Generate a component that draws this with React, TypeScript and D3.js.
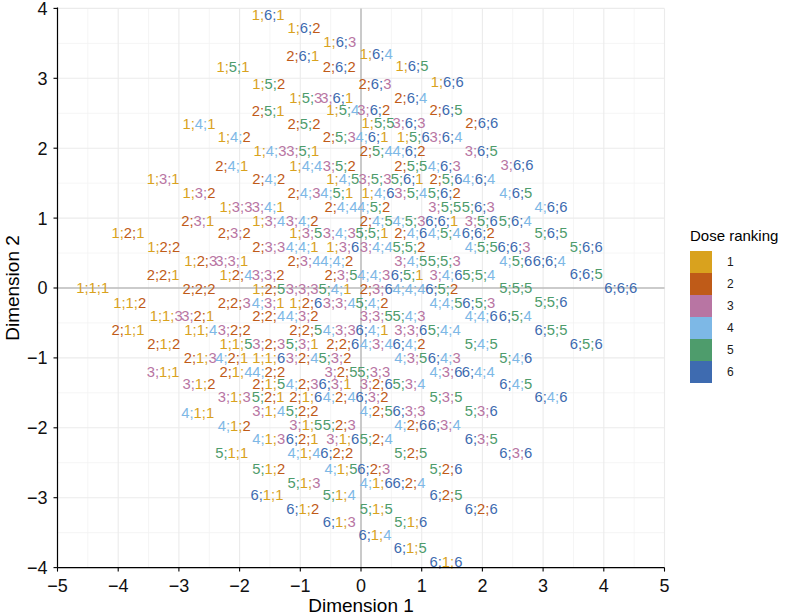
import * as d3 from "d3";

// Dose ranking colours, one per level (1..6)
const doseLevels = ["1", "2", "3", "4", "5", "6"];
const doseColors = ["#D9A21E", "#BF5B18", "#B875A3", "#7DB8E6", "#4E9C6C", "#3E6BB0"];

// one label per dose combination, coloured digit by digit
const doseLabels = [
  "1;1;1", "1;1;2", "1;1;3", "1;1;4", "1;1;5", "1;1;6",
  "1;2;1", "1;2;2", "1;2;3", "1;2;4", "1;2;5", "1;2;6",
  "1;3;1", "1;3;2", "1;3;3", "1;3;4", "1;3;5", "1;3;6",
  "1;4;1", "1;4;2", "1;4;3", "1;4;4", "1;4;5", "1;4;6",
  "1;5;1", "1;5;2", "1;5;3", "1;5;4", "1;5;5", "1;5;6",
  "1;6;1", "1;6;2", "1;6;3", "1;6;4", "1;6;5", "1;6;6",
  "2;1;1", "2;1;2", "2;1;3", "2;1;4", "2;1;5", "2;1;6",
  "2;2;1", "2;2;2", "2;2;3", "2;2;4", "2;2;5", "2;2;6",
  "2;3;1", "2;3;2", "2;3;3", "2;3;4", "2;3;5", "2;3;6",
  "2;4;1", "2;4;2", "2;4;3", "2;4;4", "2;4;5", "2;4;6",
  "2;5;1", "2;5;2", "2;5;3", "2;5;4", "2;5;5", "2;5;6",
  "2;6;1", "2;6;2", "2;6;3", "2;6;4", "2;6;5", "2;6;6",
  "3;1;1", "3;1;2", "3;1;3", "3;1;4", "3;1;5", "3;1;6",
  "3;2;1", "3;2;2", "3;2;3", "3;2;4", "3;2;5", "3;2;6",
  "3;3;1", "3;3;2", "3;3;3", "3;3;4", "3;3;5", "3;3;6",
  "3;4;1", "3;4;2", "3;4;3", "3;4;4", "3;4;5", "3;4;6",
  "3;5;1", "3;5;2", "3;5;3", "3;5;4", "3;5;5", "3;5;6",
  "3;6;1", "3;6;2", "3;6;3", "3;6;4", "3;6;5", "3;6;6",
  "4;1;1", "4;1;2", "4;1;3", "4;1;4", "4;1;5", "4;1;6",
  "4;2;1", "4;2;2", "4;2;3", "4;2;4", "4;2;5", "4;2;6",
  "4;3;1", "4;3;2", "4;3;3", "4;3;4", "4;3;5", "4;3;6",
  "4;4;1", "4;4;2", "4;4;3", "4;4;4", "4;4;5", "4;4;6",
  "4;5;1", "4;5;2", "4;5;3", "4;5;4", "4;5;5", "4;5;6",
  "4;6;1", "4;6;2", "4;6;3", "4;6;4", "4;6;5", "4;6;6",
  "5;1;1", "5;1;2", "5;1;3", "5;1;4", "5;1;5", "5;1;6",
  "5;2;1", "5;2;2", "5;2;3", "5;2;4", "5;2;5", "5;2;6",
  "5;3;1", "5;3;2", "5;3;3", "5;3;4", "5;3;5", "5;3;6",
  "5;4;1", "5;4;2", "5;4;3", "5;4;4", "5;4;5", "5;4;6",
  "5;5;1", "5;5;2", "5;5;3", "5;5;4", "5;5;5", "5;5;6",
  "5;6;1", "5;6;2", "5;6;3", "5;6;4", "5;6;5", "5;6;6",
  "6;1;1", "6;1;2", "6;1;3", "6;1;4", "6;1;5", "6;1;6",
  "6;2;1", "6;2;2", "6;2;3", "6;2;4", "6;2;5", "6;2;6",
  "6;3;1", "6;3;2", "6;3;3", "6;3;4", "6;3;5", "6;3;6",
  "6;4;1", "6;4;2", "6;4;3", "6;4;4", "6;4;5", "6;4;6",
  "6;5;1", "6;5;2", "6;5;3", "6;5;4", "6;5;5", "6;5;6",
  "6;6;1", "6;6;2", "6;6;3", "6;6;4", "6;6;5", "6;6;6",
];

const dim1 = [
  -4.42, -3.81, -3.21, -2.64, -2.06, -1.52,
  -3.84, -3.25, -2.64, -2.06, -1.52, -0.91,
  -3.26, -2.67, -2.06, -1.52, -0.91, -0.30,
  -2.67, -2.09, -1.50, -0.91, -0.30, 0.28,
  -2.11, -1.52, -0.91, -0.30, 0.28, 0.86,
  -1.53, -0.94, -0.35, 0.25, 0.84, 1.42,
  -3.84, -3.25, -2.65, -2.06, -1.52, -0.91,
  -3.26, -2.67, -2.09, -1.52, -0.91, -0.30,
  -2.69, -2.09, -1.52, -0.94, -0.33, 0.25,
  -2.13, -1.52, -0.94, -0.33, 0.25, 0.82,
  -1.53, -0.94, -0.36, 0.25, 0.82, 1.40,
  -0.96, -0.36, 0.23, 0.82, 1.40, 1.99,
  -3.26, -2.67, -2.09, -1.52, -0.91, -0.30,
  -2.69, -2.09, -1.52, -0.97, -0.33, 0.25,
  -2.13, -1.53, -0.97, -0.36, 0.25, 0.82,
  -1.53, -0.97, -0.36, 0.25, 0.82, 1.40,
  -0.96, -0.36, 0.23, 0.82, 1.38, 1.98,
  -0.40, 0.21, 0.79, 1.40, 1.98, 2.57,
  -2.69, -2.09, -1.52, -0.94, -0.33, 0.25,
  -2.13, -1.52, -0.97, -0.36, 0.25, 0.82,
  -1.53, -0.97, -0.36, 0.25, 0.82, 1.40,
  -0.97, -0.40, 0.21, 0.79, 1.40, 1.98,
  -0.40, 0.21, 0.79, 1.37, 1.98, 2.55,
  0.18, 0.79, 1.37, 1.94, 2.55, 3.13,
  -2.13, -1.52, -0.94, -0.36, 0.25, 0.82,
  -1.53, -0.97, -0.36, 0.25, 0.82, 1.40,
  -0.97, -0.43, 0.21, 0.79, 1.40, 1.98,
  -0.43, 0.18, 0.79, 1.37, 1.98, 2.55,
  0.18, 0.79, 1.37, 1.94, 2.55, 3.13,
  0.76, 1.37, 1.93, 2.54, 3.13, 3.71,
  -1.55, -0.96, -0.36, 0.23, 0.81, 1.40,
  -0.97, -0.40, 0.21, 0.79, 1.40, 1.98,
  -0.43, 0.18, 0.79, 1.37, 1.98, 2.55,
  0.18, 0.79, 1.37, 1.93, 2.55, 3.13,
  0.76, 1.33, 1.94, 2.54, 3.13, 3.71,
  1.33, 1.93, 2.52, 3.10, 3.71, 4.28,
];

const dim2 = [
  0.00, -0.21, -0.40, -0.60, -0.79, -0.99,
  0.79, 0.59, 0.39, 0.19, -0.01, -0.21,
  1.57, 1.36, 1.16, 0.97, 0.79, 0.59,
  2.35, 2.16, 1.96, 1.75, 1.57, 1.36,
  3.16, 2.93, 2.72, 2.55, 2.36, 2.16,
  3.91, 3.72, 3.52, 3.35, 3.18, 2.95,
  -0.60, -0.79, -0.99, -1.19, -1.37, -1.56,
  0.19, -0.01, -0.21, -0.40, -0.60, -0.79,
  0.97, 0.79, 0.59, 0.39, 0.19, -0.01,
  1.75, 1.57, 1.36, 1.17, 0.97, 0.79,
  2.53, 2.35, 2.16, 1.96, 1.75, 1.57,
  3.33, 3.16, 2.93, 2.72, 2.55, 2.36,
  -1.19, -1.37, -1.56, -1.76, -1.96, -2.16,
  -0.40, -0.60, -0.79, -0.99, -1.19, -1.37,
  0.39, 0.19, -0.01, -0.21, -0.40, -0.60,
  1.16, 0.97, 0.79, 0.59, 0.39, 0.19,
  1.96, 1.75, 1.57, 1.36, 1.17, 0.97,
  2.72, 2.55, 2.36, 2.16, 1.97, 1.77,
  -1.79, -1.97, -2.16, -2.35, -2.58, -2.78,
  -0.99, -1.19, -1.37, -1.56, -1.76, -1.96,
  -0.21, -0.40, -0.60, -0.79, -0.99, -1.19,
  0.59, 0.39, 0.19, -0.01, -0.21, -0.40,
  1.36, 1.17, 0.97, 0.79, 0.59, 0.39,
  2.16, 1.96, 1.75, 1.57, 1.36, 1.17,
  -2.36, -2.58, -2.78, -2.95, -3.15, -3.35,
  -1.56, -1.76, -1.96, -2.16, -2.36, -2.58,
  -0.79, -0.99, -1.19, -1.37, -1.56, -1.76,
  -0.01, -0.21, -0.40, -0.60, -0.79, -0.99,
  0.79, 0.59, 0.39, 0.19, 0.00, -0.20,
  1.57, 1.36, 1.17, 0.97, 0.79, 0.59,
  -2.95, -3.15, -3.35, -3.53, -3.72, -3.92,
  -2.16, -2.35, -2.58, -2.78, -2.95, -3.15,
  -1.37, -1.56, -1.76, -1.96, -2.16, -2.35,
  -0.60, -0.79, -0.99, -1.19, -1.37, -1.56,
  0.19, -0.01, -0.21, -0.40, -0.60, -0.79,
  0.97, 0.79, 0.59, 0.39, 0.21, 0.00,
];

const xTicks = [-5, -4, -3, -2, -1, 0, 1, 2, 3, 4, 5];
const yTicks = [-4, -3, -2, -1, 0, 1, 2, 3, 4];

const FONT = "'Liberation Sans', Arial, Helvetica, sans-serif";
const fmt = (v: number) => (v < 0 ? "\u2212" + Math.abs(v) : String(v));

export default function App() {
  const width = 787, height = 616;
  const panel = { left: 57.5, right: 664.5, top: 8.4, bottom: 567.6 };
  const x = d3.scaleLinear().domain([-5, 5]).range([panel.left, panel.right]);
  const y = d3.scaleLinear().domain([-4, 4]).range([panel.bottom, panel.top]);
  const color = d3.scaleOrdinal<string, string>().domain(doseLevels).range(doseColors);

  const minorX = xTicks.slice(0, -1).map((t) => t + 0.5);
  const minorY = yTicks.slice(0, -1).map((t) => t + 0.5);

  const legendX = 690, legendY = 251, keyH = 22, keyW = 22;

  return (
    <svg width={width} height={height} style={{ position: "absolute", left: 0, top: 0, background: "#fff" }}>
      {/* grid */}
      {minorX.map((t) => (
        <line key={`mx${t}`} x1={x(t)} x2={x(t)} y1={panel.top} y2={panel.bottom} stroke="#F3F3F3" strokeWidth={0.8} />
      ))}
      {minorY.map((t) => (
        <line key={`my${t}`} x1={panel.left} x2={panel.right} y1={y(t)} y2={y(t)} stroke="#F3F3F3" strokeWidth={0.8} />
      ))}
      {xTicks.map((t) => (
        <line key={`gx${t}`} x1={x(t)} x2={x(t)} y1={panel.top} y2={panel.bottom} stroke="#EBEBEB" strokeWidth={1.1} />
      ))}
      {yTicks.map((t) => (
        <line key={`gy${t}`} x1={panel.left} x2={panel.right} y1={y(t)} y2={y(t)} stroke="#EBEBEB" strokeWidth={1.1} />
      ))}
      {/* zero lines */}
      <line x1={x(0)} x2={x(0)} y1={panel.top} y2={panel.bottom} stroke="#BDBDBD" strokeWidth={1.5} />
      <line x1={panel.left} x2={panel.right} y1={y(0)} y2={y(0)} stroke="#BDBDBD" strokeWidth={1.5} />

      {/* labels */}
      {doseLabels.map((lab, i) => {
        const parts = lab.split(";");
        return (
          <text key={lab} x={x(dim1[i])} y={y(dim2[i])} dy="0.36em" textAnchor="middle" fontSize={14.8} fontFamily={FONT}>
            {parts.map((p, j) => (
              <tspan key={j} fill={color(p)}>{p}{j < parts.length - 1 ? ";" : ""}</tspan>
            ))}
          </text>
        );
      })}

      {/* axes */}
      <line x1={panel.left} x2={panel.left} y1={panel.top - 1} y2={panel.bottom} stroke="#000" strokeWidth={1.2} />
      <line x1={panel.left} x2={panel.right} y1={panel.bottom} y2={panel.bottom} stroke="#000" strokeWidth={1.2} />
      {xTicks.map((t) => (
        <g key={`xt${t}`}>
          <line x1={x(t)} x2={x(t)} y1={panel.bottom} y2={panel.bottom + 4} stroke="#000" strokeWidth={1.1} />
          <text x={x(t)} y={panel.bottom + 24} textAnchor="middle" fontSize={18} fontFamily={FONT} fill="#111">{fmt(t)}</text>
        </g>
      ))}
      {yTicks.map((t) => (
        <g key={`yt${t}`}>
          <line x1={panel.left - 4} x2={panel.left} y1={y(t)} y2={y(t)} stroke="#000" strokeWidth={1.1} />
          <text x={panel.left - 10} y={y(t)} dy="0.36em" textAnchor="end" fontSize={18} fontFamily={FONT} fill="#111">{fmt(t)}</text>
        </g>
      ))}
      <text x={(panel.left + panel.right) / 2} y={612} textAnchor="middle" fontSize={19} fontFamily={FONT} fill="#000">Dimension 1</text>
      <text transform={`translate(19,${(panel.top + panel.bottom) / 2}) rotate(-90)`} textAnchor="middle" fontSize={19} fontFamily={FONT} fill="#000">Dimension 2</text>

      {/* legend */}
      <text x={legendX} y={legendY - 10} fontSize={15} fontFamily={FONT} fill="#000">Dose ranking</text>
      {doseLevels.map((lv, i) => (
        <g key={`lg${lv}`}>
          <rect x={legendX} y={legendY + i * keyH} width={keyW} height={keyH} fill={color(lv)} />
          <text x={legendX + keyW + 15} y={legendY + i * keyH + keyH / 2} dy="0.36em" fontSize={12} fontFamily={FONT} fill="#1a1a1a">{lv}</text>
        </g>
      ))}
    </svg>
  );
}
